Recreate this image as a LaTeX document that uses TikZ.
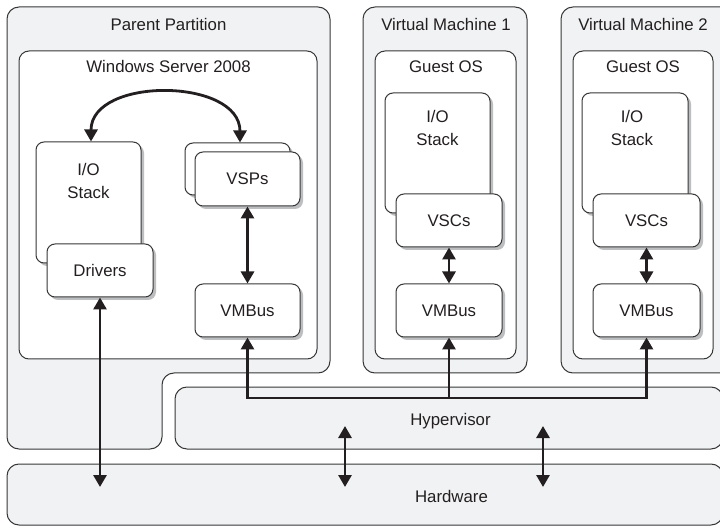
\documentclass[tikz,border=0pt]{standalone}
\usepackage{fontspec}
\setmainfont{Liberation Sans}
\usetikzlibrary{arrows.meta,shadows}
\definecolor{regiongray}{RGB}{241,242,244}
\definecolor{edgegray}{RGB}{55,55,55}
\definecolor{shadowgray}{RGB}{188,190,192}
\definecolor{arrowblack}{RGB}{35,31,32}
\definecolor{textgray}{RGB}{35,31,32}
\newcommand{\dfont}{\fontsize{16.8}{23}\selectfont}
\begin{document}
\begin{tikzpicture}[x=1pt,y=-1pt,
  >={Triangle[width=13pt,length=12pt]},
  region/.style={draw=edgegray,line width=1pt,fill=regiongray,rounded corners=12pt},
  regionnode/.style={region,rectangle,inner sep=0pt},
  panel/.style={draw=edgegray,line width=1pt,fill=white,rounded corners=10pt,rectangle,inner sep=0pt},
  comp/.style={draw=edgegray,line width=1pt,fill=white,rounded corners=8pt,rectangle,inner sep=0pt,font=\dfont,text=textgray,
    drop shadow={shadow xshift=3pt,shadow yshift=-3pt,fill=shadowgray,opacity=1}},
  txt/.style={font=\dfont,inner sep=0pt,text=textgray,align=center},
  arr/.style={draw=arrowblack,line width=2.8pt},
  sz/.style 2 args={minimum width=#1pt,minimum height=#2pt},
]
\useasboundingbox (0,0) rectangle (720,526);
\clip (0,0) rectangle (720,526);

% outer regions
\draw[region] (7,7) -- (330,7) -- (330,373) -- (162,373) -- (162,449) -- (7,449) -- cycle;
\node[regionnode,sz={164}{366}] (vm1) at (445,190) {};
\node[regionnode,sz={179}{366}] (vm2) at (650.5,190) {};
\node[regionnode,sz={548}{62}] (hyper) at (449,418) {};
\node[regionnode,sz={716}{61}] (hw) at (365,494.5) {};

% titles
\node[txt,anchor=base] (ppT) at (168.5,31) {Parent Partition};
\node[txt,anchor=base] (vm1T) at (446,31) {Virtual Machine 1};
\node[txt,anchor=base] (vm2T) at (643,31) {Virtual Machine 2};
\node[txt,anchor=base] (hyperT) at (450.5,425) {Hypervisor};
\node[txt,anchor=base] (hwT) at (451.5,502) {Hardware};

% inner panels
\node[panel,sz={298}{308}] (ws) at (168,205) {};
\node[panel,sz={141}{308}] (guest1) at (445.5,205) {};
\node[panel,sz={140}{308}] (guest2) at (643,205) {};
\node[txt,anchor=base] (wsT) at (168.5,73) {Windows Server 2008};
\node[txt,anchor=base] (g1T) at (446,73) {Guest OS};
\node[txt,anchor=base] (g2T) at (643,73) {Guest OS};

% parent partition components
\node[comp,sz={105}{121}] (iostackP) at (88.5,202.5) {};
\node[txt] (iostackPT) at (88.5,180.5) {I/O\\Stack};
\node[comp,sz={106}{53}] (drivers) at (100,270.5) {Drivers};
\node[comp,sz={105}{52}] (vspsback) at (237.5,169) {};
\node[comp,sz={105}{54}] (vsps) at (247.5,179) {VSPs};
\node[comp,sz={105}{53}] (vmbusP) at (247.5,310.5) {VMBus};

% VM 1 components
\node[comp,sz={105}{120}] (io1) at (437.5,153) {};
\node[txt] (io1T) at (437.5,128) {I/O\\Stack};
\node[comp,sz={106}{53}] (vscs1) at (449,220.5) {VSCs};
\node[comp,sz={106}{53}] (vmbus1) at (449,310.5) {VMBus};

% VM 2 components
\node[comp,sz={106}{120}] (io2) at (635,153) {};
\node[txt] (io2T) at (632,128) {I/O\\Stack};
\node[comp,sz={107}{53}] (vscs2) at (646.5,220.5) {VSCs};
\node[comp,sz={107}{53}] (vmbus2) at (646.5,310.5) {VMBus};

% free-end coordinates
\coordinate (busline) at (0,398);
\coordinate (hwtip) at (101,487);
\coordinate (hvA) at (345,426);
\coordinate (hwA) at (345,487);
\coordinate (hvB) at (543,426);
\coordinate (hwB) at (543,487);

% connectors
\draw[arr,<->] ([xshift=2.5pt]iostackP.north) .. controls +(0,-65) and +(0,-65) .. ([xshift=2.5pt]vspsback.north);
\draw[arr,<->] (vsps.south) -- (vmbusP.south |- vmbusP.north);
\draw[arr,<->] (drivers.south) -- (drivers.south |- hwtip);
\draw[arr,<->] (vscs1.south) -- (vmbus1.north);
\draw[arr,<->] (vscs2.south) -- (vmbus2.north);
\draw[arr,<->] (vmbusP.south) -- (vmbusP.south |- busline) -| (vmbus2.south);
\draw[arr,->] (vmbus1.south |- busline) -- (vmbus1.south);
\draw[arr,<->] (hvA) -- (hwA);
\draw[arr,<->] (hvB) -- (hwB);
\end{tikzpicture}
\end{document}
